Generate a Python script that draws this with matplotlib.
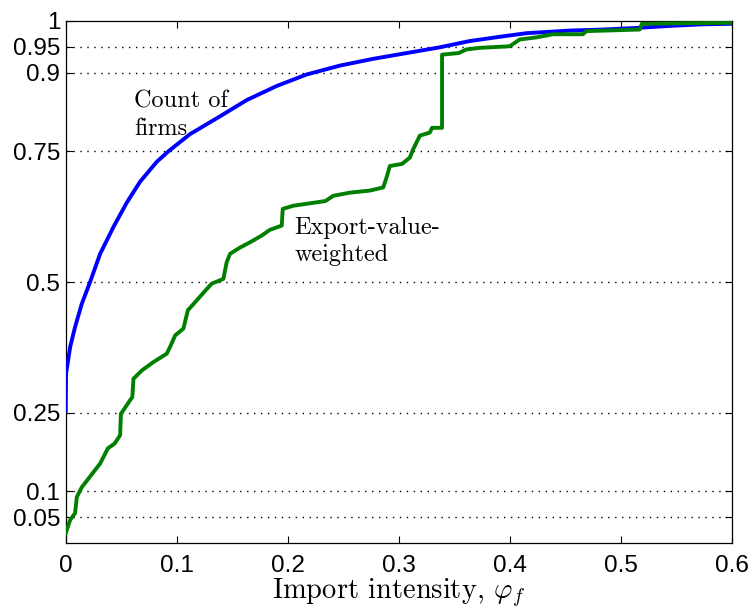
import matplotlib
matplotlib.use("Agg")
import matplotlib.pyplot as plt

plt.rcParams['mathtext.fontset'] = 'cm'
plt.rcParams['font.family'] = ['Liberation Sans', 'DejaVu Sans']

# count of firms (blue)
firms_x = [0, 0.0003, 0.004, 0.0084, 0.0144, 0.0219, 0.031, 0.0429, 0.055,
           0.067, 0.082, 0.093, 0.112, 0.139, 0.163, 0.19, 0.217, 0.247,
           0.277, 0.307, 0.337, 0.364, 0.394, 0.415, 0.454, 0.484, 0.514,
           0.544, 0.574, 0.6]
firms_y = [0.255, 0.325, 0.376, 0.414, 0.458, 0.50, 0.554, 0.605, 0.652,
           0.692, 0.730, 0.751, 0.783, 0.817, 0.848, 0.875, 0.897, 0.914,
           0.927, 0.938, 0.949, 0.961, 0.970, 0.976, 0.981, 0.983, 0.986,
           0.99, 0.993, 0.994]

# export-value-weighted (green)
value_x = [0, 0.004, 0.0084, 0.01, 0.0146, 0.023, 0.031, 0.038, 0.044, 0.049,
           0.0497, 0.058, 0.060, 0.061, 0.0686, 0.079, 0.091, 0.094, 0.0986,
           0.106, 0.110, 0.118, 0.1285, 0.1315, 0.142, 0.145, 0.148, 0.157,
           0.166, 0.1766, 0.184, 0.1946, 0.1955, 0.205, 0.234, 0.241, 0.256,
           0.274, 0.286, 0.289, 0.292, 0.303, 0.310, 0.313, 0.319, 0.328,
           0.33, 0.339, 0.339, 0.354, 0.361, 0.373, 0.40, 0.409, 0.424,
           0.439, 0.466, 0.469, 0.517, 0.519, 0.6]
value_y = [0.02, 0.045, 0.058, 0.089, 0.108, 0.131, 0.153, 0.182, 0.191, 0.207,
           0.248, 0.274, 0.28, 0.315, 0.331, 0.347, 0.363, 0.376, 0.398,
           0.411, 0.446, 0.465, 0.49, 0.497, 0.506, 0.538, 0.554, 0.566,
           0.576, 0.589, 0.60, 0.608, 0.64, 0.646, 0.655, 0.665, 0.671,
           0.675, 0.681, 0.70, 0.722, 0.726, 0.738, 0.754, 0.78, 0.786,
           0.795, 0.795, 0.935, 0.938, 0.945, 0.948, 0.951, 0.964, 0.968,
           0.974, 0.974, 0.98, 0.983, 0.994, 0.996]

yticks = [0.05, 0.1, 0.25, 0.5, 0.75, 0.9, 0.95, 1]
ytick_labels = ['0.05', '0.1', '0.25', '0.5', '0.75', '0.9', '0.95', '1']
xticks = [0, 0.1, 0.2, 0.3, 0.4, 0.5, 0.6]

fig = plt.figure(figsize=(7.53, 6.09), dpi=100)
ax = fig.add_axes([0.0873, 0.1076, 0.8845, 0.8585])

# dotted horizontal gridlines
for yv in yticks[:-1]:
    ax.axhline(yv, color='k', linestyle=(0, (1, 4)), linewidth=1.0, zorder=1)

ax.plot(firms_x, firms_y, color='#0000ff', linewidth=2.8, zorder=3,
        solid_joinstyle='round')
ax.plot(value_x, value_y, color='#007f00', linewidth=2.8, zorder=4)

ax.set_xlim(0, 0.6)
ax.set_ylim(0, 1)
ax.set_xticks(xticks)
ax.set_xticklabels(['0', '0.1', '0.2', '0.3', '0.4', '0.5', '0.6'])
ax.set_yticks(yticks)
ax.set_yticklabels(ytick_labels)
ax.tick_params(direction='in', top=True, right=True, length=5, width=0.8,
               labelsize=17.5)
ax.tick_params(axis='x', pad=8)
ax.tick_params(axis='y', pad=4)
for s in ax.spines.values():
    s.set_linewidth(0.9)

ax.set_xlabel(r'Import intensity, $\varphi_f$', fontfamily='cmr10',
              fontsize=20.5, labelpad=0)

ax.text(0.0616, 0.834, 'Count of', fontfamily='cmr10', fontsize=17.5,
        va='baseline', ha='left')
ax.text(0.0616, 0.781, 'firms', fontfamily='cmr10', fontsize=17.5,
        va='baseline', ha='left')
ax.text(0.206, 0.592, 'Export-value-', fontfamily='cmr10', fontsize=17.5,
        va='baseline', ha='left')
ax.text(0.206, 0.541, 'weighted', fontfamily='cmr10', fontsize=17.5,
        va='baseline', ha='left')

fig.savefig('out.png', dpi=100)
